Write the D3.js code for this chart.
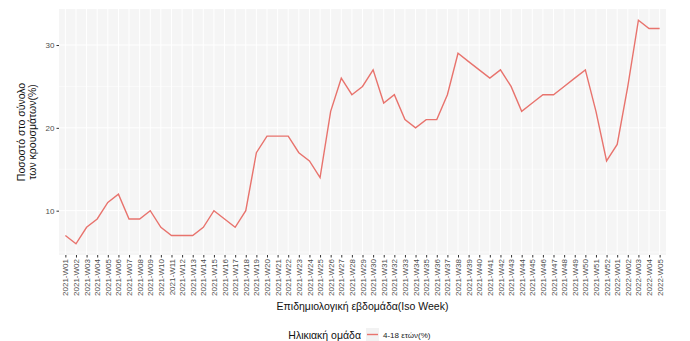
<!DOCTYPE html>
<html><head><meta charset="utf-8">
<script src="https://cdn.jsdelivr.net/npm/d3@7"></script>
<style>body{margin:0;background:#fff;} svg{display:block;font-family:"Liberation Sans",Arial,sans-serif;}</style>
</head><body><svg id="c" width="690" height="341"></svg>
<script>
const weeks = [];
for (let i = 1; i <= 52; i++) weeks.push("2021-W" + String(i).padStart(2, "0"));
for (let i = 1; i <= 5; i++) weeks.push("2022-W" + String(i).padStart(2, "0"));
const values = [7,6,8,9,11,12,9,9,10,8,7,7,7,8,10,9,8,10,17,19,19,19,17,16,14,22,26,24,25,27,23,24,21,20,21,21,24,29,28,27,26,27,25,22,23,24,24,25,26,27,22,16,18,25,33,32,32];
const yTicks = [10, 20, 30];
const seriesName = "4-18 ετών(%)";
const legendTitle = "Ηλικιακή ομάδα";
const xTitle = "Επιδημιολογική εβδομάδα(Iso Week)";
const yTitle = ["Ποσοστό στο σύνολο", "των κρουσμάτων(%)"];

const svg = d3.select("#c");
const L = 59, R = 666, T = 9, B = 255;
const lineColor = "#E8736D";
const x = d3.scalePoint().domain(weeks).range([L, R]).padding(0.6);
const lo = d3.min(values), hi = d3.max(values), ex = (hi - lo) * 0.05;
const y = d3.scaleLinear().domain([lo - ex, hi + ex]).range([B, T]);

svg.append("rect").attr("x", L).attr("y", T).attr("width", R - L).attr("height", B - T).attr("fill", "#F5F5F5");
const minor = [5, 15, 25].filter(v => v >= y.domain()[0] && v <= y.domain()[1]);
svg.append("g").selectAll("line").data(minor).join("line")
  .attr("x1", L).attr("x2", R).attr("y1", d => y(d)).attr("y2", d => y(d))
  .attr("stroke", "#fff").attr("stroke-width", 0.5);
svg.append("g").selectAll("line").data(yTicks).join("line")
  .attr("x1", L).attr("x2", R).attr("y1", d => y(d)).attr("y2", d => y(d))
  .attr("stroke", "#fff").attr("stroke-width", 1);
svg.append("g").selectAll("line").data(weeks).join("line")
  .attr("x1", d => x(d)).attr("x2", d => x(d)).attr("y1", T).attr("y2", B)
  .attr("stroke", "#fff").attr("stroke-width", 1);

const xa = svg.append("g").attr("transform", `translate(0,${B})`)
  .call(d3.axisBottom(x).tickSize(2.5).tickPadding(2));
xa.select(".domain").remove();
xa.selectAll("line").attr("stroke", "#333");
xa.selectAll(".tick text").attr("fill", "#4D4D4D").attr("font-size", 8)
  .attr("transform", "rotate(-90)").attr("text-anchor", "end")
  .attr("x", -4).attr("y", 0).attr("dy", "0.32em");

const ya = svg.append("g").attr("transform", `translate(${L},0)`)
  .call(d3.axisLeft(y).tickValues(yTicks).tickSize(2.5).tickPadding(2));
ya.select(".domain").remove();
ya.selectAll("line").attr("stroke", "#333");
ya.selectAll("text").attr("fill", "#4D4D4D").attr("font-size", 8);

svg.append("path").datum(values)
  .attr("d", d3.line().x((d, i) => x(weeks[i])).y(d => y(d)))
  .attr("fill", "none").attr("stroke", lineColor).attr("stroke-width", 1.4);

svg.append("text").attr("x", (L + R) / 2).attr("y", 309.5).attr("text-anchor", "middle")
  .attr("font-size", 10.5).attr("fill", "#111").text(xTitle);
const yt = svg.append("text").attr("transform", `translate(25,${(T + B) / 2}) rotate(-90)`)
  .attr("text-anchor", "middle").attr("font-size", 10.5).attr("fill", "#111");
yt.append("tspan").attr("x", 0).attr("dy", 0).text(yTitle[0]);
yt.append("tspan").attr("x", 0).attr("dy", 11).text(yTitle[1]);

svg.append("text").attr("x", 361).attr("y", 338.5).attr("text-anchor", "end")
  .attr("font-size", 10.5).attr("fill", "#111").text(legendTitle);
svg.append("rect").attr("x", 366).attr("y", 328).attr("width", 13).attr("height", 13).attr("fill", "#F2F2F2");
svg.append("line").attr("x1", 367).attr("x2", 378).attr("y1", 334.5).attr("y2", 334.5)
  .attr("stroke", lineColor).attr("stroke-width", 1.4);
svg.append("text").attr("x", 383).attr("y", 338).attr("font-size", 8).attr("fill", "#222").text(seriesName);
</script></body></html>
